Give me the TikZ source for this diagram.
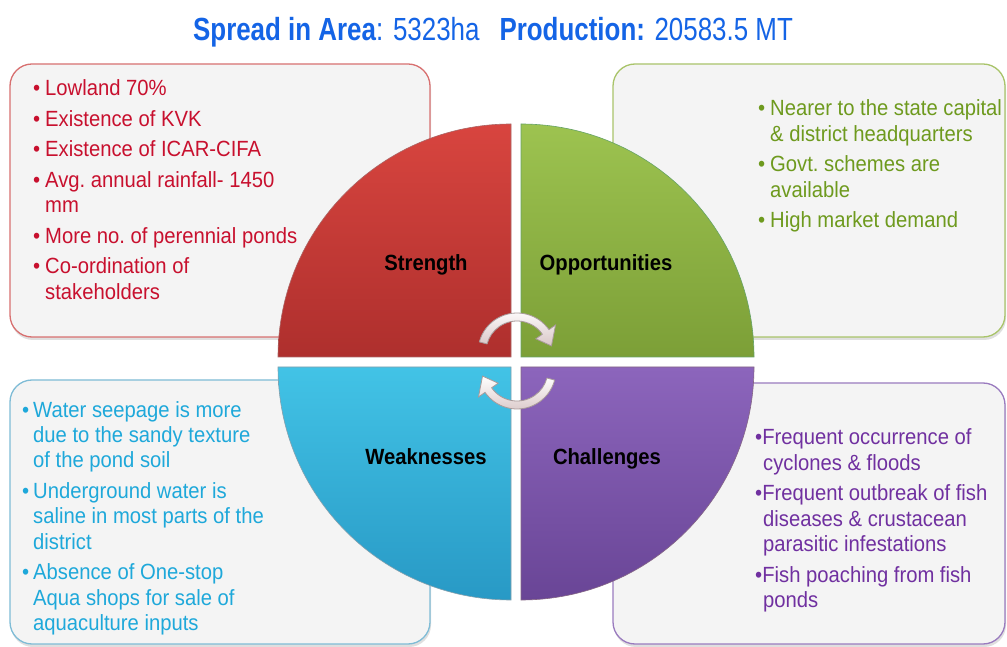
\documentclass[tikz,border=0pt]{standalone}
\usepackage{fontspec}
\setmainfont{Liberation Sans}[FakeStretch=0.92]
\newfontfamily\titlefont{Liberation Sans}[FakeStretch=0.81]
\usetikzlibrary{shadows}
\definecolor{titleblue}{HTML}{1464E6}
\definecolor{tred}{HTML}{C8102E}
\definecolor{tgreen}{HTML}{6E9A1E}
\definecolor{tblue}{HTML}{1EA8DA}
\definecolor{tpurple}{HTML}{7030A0}
\definecolor{bred}{HTML}{D87070}
\definecolor{bgreen}{HTML}{A9C46A}
\definecolor{bblue}{HTML}{7FBCD6}
\definecolor{bpurple}{HTML}{9A7BBF}
\definecolor{boxfill}{HTML}{F4F4F4}
\definecolor{arrowedge}{HTML}{A89A9A}
\definecolor{arrowlow}{HTML}{D9C6C6}
\newcommand{\bodyfont}{\fontsize{22}{25.5}\selectfont\frenchspacing}
\tikzset{
  infobox/.style={fill=boxfill, line width=1.3pt, rounded corners=22pt,
    drop shadow={shadow xshift=1pt, shadow yshift=-3pt, opacity=0.25}},
  boxtext/.style={anchor=base west, inner sep=0pt, font=\bodyfont},
  qlabel/.style={anchor=base, inner sep=0pt, font=\bodyfont\bfseries, text=black},
  quad/.style={line width=0.6pt},
  cyclearrow/.style={draw=arrowedge, line width=0.8pt, top color=white, bottom color=arrowlow}
}
\begin{document}
\begin{tikzpicture}[x=1pt, y=1pt]
\useasboundingbox (0,0) rectangle (1007,646);
\fill[white] (0,0) rectangle (1007,646);

% title
\node[anchor=base, inner sep=0pt, text=titleblue] (title) at (493,605)
  {\titlefont\fontsize{32}{36}\selectfont\textbf{Spread in Area}: 5323ha\hspace{20pt}\textbf{Production:} 20583.5 MT};

% boxes
\draw[infobox, draw=bred] (10,309) rectangle (430,582);
\draw[infobox, draw=bgreen] (613,309) rectangle (1005,582);
\draw[infobox, draw=bblue] (10,2) rectangle (430,266);
\draw[infobox, draw=bpurple] (613,2) rectangle (1005,263);

% quadrants
\draw[quad, draw=red!45!black!60, top color={rgb,255:red,216;green,69;blue,63}, bottom color={rgb,255:red,174;green,47;blue,45}]
  (511,289) -- (278,289) arc[start angle=180, end angle=90, radius=233pt] -- cycle;
\draw[quad, draw=green!40!black!60, top color={rgb,255:red,157;green,195;blue,80}, bottom color={rgb,255:red,124;green,159;blue,55}]
  (521,289) -- (521,522) arc[start angle=90, end angle=0, radius=233pt] -- cycle;
\draw[quad, draw=cyan!40!black!60, top color={rgb,255:red,66;green,195;blue,230}, bottom color={rgb,255:red,40;green,153;blue,197}]
  (511,279) -- (278,279) arc[start angle=180, end angle=270, radius=233pt] -- cycle;
\draw[quad, draw=violet!40!black!60, top color={rgb,255:red,140;green,101;blue,188}, bottom color={rgb,255:red,105;green,69;blue,150}]
  (521,279) -- (754,279) arc[start angle=0, end angle=-90, radius=233pt] -- cycle;

% quadrant labels
\node[qlabel] (slab) at (426,375) {Strength};
\node[qlabel] (olab) at (606,375) {Opportunities};
\node[qlabel] (wlab) at (426,182) {Weaknesses};
\node[qlabel] (clab) at (607,182) {Challenges};

% cycle arrows
\begin{scope}[shift={(517,294)}]
  \path[cyclearrow] (165:39pt) arc[start angle=165, end angle=35, radius=39pt]
    -- (35:47pt) -- (10:35pt) -- (35:23pt) -- (35:31pt)
    arc[start angle=35, end angle=165, radius=31pt] -- cycle;
\end{scope}
\begin{scope}[shift={(517,276)}, rotate=180]
  \path[cyclearrow] (165:39pt) arc[start angle=165, end angle=35, radius=39pt]
    -- (35:47pt) -- (10:35pt) -- (35:23pt) -- (35:31pt)
    arc[start angle=35, end angle=165, radius=31pt] -- cycle;
\end{scope}

% box texts
\node[boxtext, text=tred] (stxt) at (33,550) {\begin{tabular}[t]{@{}p{12pt}@{}l@{}}
\textbullet & Lowland 70\%\\[5pt]
\textbullet & Existence of KVK\\[5pt]
\textbullet & Existence of ICAR-CIFA\\[5pt]
\textbullet & Avg. annual rainfall- 1450\\
 & mm\\[5pt]
\textbullet & More no. of perennial ponds\\[5pt]
\textbullet & Co-ordination of\\
 & stakeholders
\end{tabular}};

\node[boxtext, text=tgreen] (otxt) at (758,530) {\begin{tabular}[t]{@{}p{12pt}@{}l@{}}
\textbullet & Nearer to the state capital\\
 & \& district headquarters\\[5pt]
\textbullet & Govt. schemes are\\
 & available\\[5pt]
\textbullet & High market demand
\end{tabular}};

\node[boxtext, text=tblue] (wtxt) at (22,229) {\begin{tabular}[t]{@{}p{11pt}@{}l@{}}
\textbullet & Water seepage is more\\
 & due to the sandy texture\\
 & of the pond soil\\[5pt]
\textbullet & Underground water is\\
 & saline in most parts of the\\
 & district\\[5pt]
\textbullet & Absence of One-stop\\
 & Aqua shops for sale of\\
 & aquaculture inputs
\end{tabular}};

\node[boxtext, text=tpurple] (ctxt) at (755,201) {\begin{tabular}[t]{@{}l@{}}
\textbullet Frequent occurrence of\\
\hspace{8pt}cyclones \& floods\\[5pt]
\textbullet Frequent outbreak of fish\\
\hspace{8pt}diseases \& crustacean\\
\hspace{8pt}parasitic infestations\\[5pt]
\textbullet Fish poaching from fish\\
\hspace{8pt}ponds
\end{tabular}};
\end{tikzpicture}
\end{document}
